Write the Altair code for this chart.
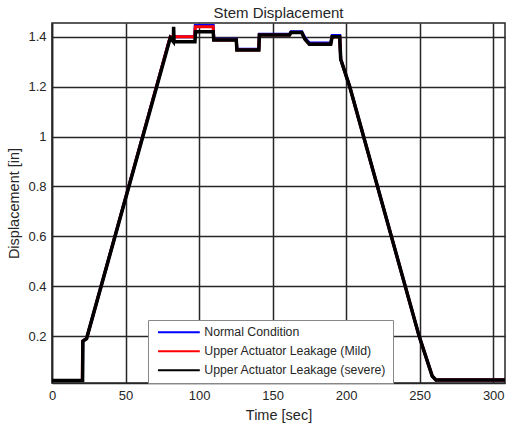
import altair as alt
import pandas as pd

# ---- data ----
series_names = ["Normal Condition", "Upper Actuator Leakage (Mild)", "Upper Actuator Leakage (severe)"]
series_colors = ["#0000ff", "#ff0000", "#000000"]

time_normal = [0, 20.7, 20.9, 23.5, 80.4, 97.0, 97.4, 109.6, 110.0, 125.3, 125.7, 140.6, 141.0,
               161.5, 162.5, 169.8, 172.0, 175.0, 189.5, 190.5, 195.6, 196.3, 202.4, 249.6, 258.5, 261.0, 308]
disp_normal = [0.022, 0.022, 0.18, 0.19, 1.40, 1.40, 1.445, 1.445, 1.39, 1.39, 1.35, 1.35, 1.41,
               1.41, 1.42, 1.42, 1.395, 1.375, 1.375, 1.405, 1.405, 1.31, 1.20, 0.20, 0.04, 0.024, 0.024]

time_mild = [0, 20.6, 20.8, 23.5, 80.4, 97.0, 97.4, 109.6, 110.0, 125.3, 125.7, 140.6, 141.0,
             161.5, 162.5, 169.8, 172.0, 175.0, 189.5, 190.5, 195.6, 196.3, 202.4, 249.6, 258.5, 261.0, 308]
disp_mild = [0.022, 0.022, 0.18, 0.19, 1.40, 1.40, 1.44, 1.44, 1.387, 1.387, 1.347, 1.347, 1.407,
             1.407, 1.417, 1.417, 1.39, 1.37, 1.37, 1.40, 1.40, 1.31, 1.20, 0.20, 0.04, 0.024, 0.024]

time_severe = [0, 20.8, 21.0, 23.5, 80.4, 82.5, 82.7, 83.0, 97.2, 97.6, 109.6, 110.0, 125.3, 125.7,
               140.6, 141.0, 161.5, 162.5, 169.8, 172.0, 175.0, 189.5, 190.5, 195.6, 196.3, 202.4,
               249.6, 258.5, 261.0, 308]
disp_severe = [0.022, 0.022, 0.18, 0.19, 1.395, 1.38, 1.44, 1.38, 1.38, 1.42, 1.42, 1.387, 1.387, 1.347,
               1.347, 1.407, 1.407, 1.417, 1.417, 1.39, 1.37, 1.37, 1.40, 1.40, 1.31, 1.20,
               0.20, 0.04, 0.024, 0.024]

x_ticks = [0, 50, 100, 150, 200, 250, 300]
y_ticks = [0.2, 0.4, 0.6, 0.8, 1.0, 1.2, 1.4]

frames = []
for name, ts, vs in zip(series_names, [time_normal, time_mild, time_severe],
                        [disp_normal, disp_mild, disp_severe]):
    frames.append(pd.DataFrame({"t": ts, "d": vs, "series": name}))
df = pd.concat(frames, ignore_index=True)

FONT = "Liberation Sans"
TXT = "#262626"

color = alt.Color(
    "series:N",
    scale=alt.Scale(domain=series_names, range=series_colors),
    legend=alt.Legend(title=None),
)
x = alt.X("t:Q", scale=alt.Scale(domain=[0, 308], nice=False, zero=False),
          axis=alt.Axis(values=x_ticks, title="Time [sec]", labelFlush=False))
y = alt.Y("d:Q", scale=alt.Scale(domain=[0.012, 1.455], nice=False, zero=False),
          axis=alt.Axis(values=y_ticks, format="~g", title="Displacement [in]", labelFlush=False))

layers = []
for name, w in zip(series_names, [3.0, 3.0, 3.5]):
    layers.append(
        alt.Chart(df).transform_filter(alt.datum.series == name)
        .mark_line(clip=True, strokeWidth=w)
        .encode(x=x, y=y, color=color)
    )

chart = alt.layer(*layers).properties(
    width=453, height=360,
    padding={"left": 52, "top": 23, "right": 1, "bottom": 46},
    autosize="none",
    title=alt.TitleParams("Stem Displacement", fontSize=15, fontWeight="normal",
                          font=FONT, color=TXT, offset=2, anchor="middle"),
).configure_view(
    stroke=TXT, strokeWidth=1.5
).configure_axis(
    labelFont=FONT, labelFontSize=13, labelColor=TXT,
    titleFont=FONT, titleFontSize=14.5, titleFontWeight="normal", titleColor=TXT,
    gridColor=TXT, gridWidth=1.5, gridOpacity=1,
    domainColor=TXT, domainWidth=1.5, ticks=False, labelPadding=6, titlePadding=6,
).configure_legend(
    orient="none", legendX=96, legendY=297,
    fillColor="white", strokeColor="#888888", padding=6,
    symbolType="M-1,0H9", symbolSize=70, symbolStrokeWidth=2, symbolOffset=2,
    labelFont=FONT, labelFontSize=12.3, labelColor=TXT, labelOffset=36,
    rowPadding=6, labelLimit=400,
)

chart.save("out.html", embed_options={"renderer": "svg", "actions": False})
